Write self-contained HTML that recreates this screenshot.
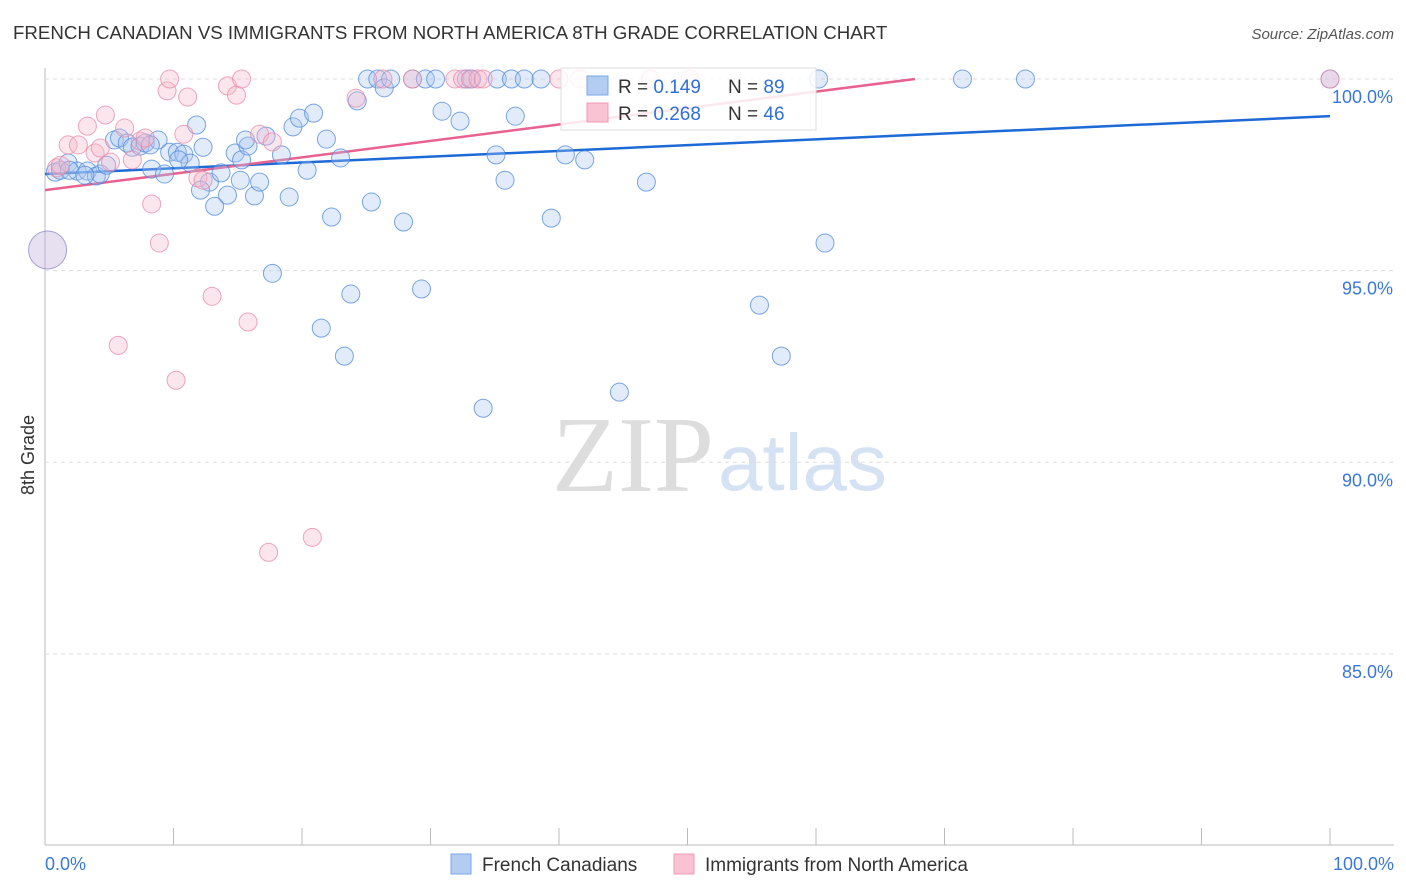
<!DOCTYPE html>
<html><head><meta charset="utf-8"><style>
body{margin:0;background:#fff;font-family:"Liberation Sans",sans-serif}
svg{display:block}
</style></head><body>
<svg id="chart" width="1406" height="892">
<text x="13" y="39" font-size="18.7" fill="#333">FRENCH CANADIAN VS IMMIGRANTS FROM NORTH AMERICA 8TH GRADE CORRELATION CHART</text>
<text x="1394" y="39" font-size="15" fill="#555" font-style="italic" text-anchor="end">Source: ZipAtlas.com</text>
<text x="714" y="491" font-size="108" fill="#ddd" font-family="Liberation Serif,serif" text-anchor="end">ZIP</text>
<text x="718" y="490" font-size="80" fill="#d4e2f4">atlas</text>
<text transform="translate(34,455) rotate(-90)" font-size="18" fill="#333" text-anchor="middle">8th Grade</text>
<g id="grid"></g><g id="lines"></g><g id="pts"></g>
<g>
<rect x="561" y="68" width="255" height="62" fill="#fff" fill-opacity="0.85" stroke="#ddd"/>
<rect x="587" y="76" width="21" height="19" fill="#b3cdf2" stroke="#7aa7e6"/>
<rect x="587" y="103" width="21" height="19" fill="#f9c3d3" stroke="#f09ab5"/>
<text x="618" y="93" font-size="19" fill="#333">R = <tspan fill="#2f6fd6">0.149</tspan><tspan x="728">N = </tspan><tspan fill="#2f6fd6">89</tspan></text>
<text x="618" y="120" font-size="19" fill="#333">R = <tspan fill="#2f6fd6">0.268</tspan><tspan x="728">N = </tspan><tspan fill="#2f6fd6">46</tspan></text>
</g>
<g>
<rect x="451" y="854" width="20" height="20" fill="#b3cdf2" stroke="#7aa7e6"/>
<text x="482" y="871" font-size="19" fill="#333">French Canadians</text>
<rect x="674" y="854" width="20" height="20" fill="#f9c3d3" stroke="#f09ab5"/>
<text x="705" y="871" font-size="19" fill="#333">Immigrants from North America</text>
</g>
</svg>
<script>
const xTicks=[0,10,20,30,40,50,60,70,80,90,100];
const yTicks=[100,95,90,85];
const blueX=[0.8,1.2,1.8,2.5,3.3,4.0,4.3,4.8,5.4,5.8,6.4,6.8,7.4,7.8,8.3,8.8,9.3,9.7,10.3,10.8,11.3,11.8,12.3,12.8,13.2,13.7,14.2,14.8,15.3,15.8,16.3,16.7,17.2,17.7,18.4,19.0,19.3,19.8,20.4,20.9,21.5,21.9,22.3,23.0,23.3,23.8,24.3,25.1,25.4,25.9,26.4,26.9,27.9,28.6,29.3,29.6,30.4,30.9,32.3,32.8,33.2,34.1,35.1,35.2,35.8,36.3,36.6,37.3,38.6,39.4,40.5,42.0,44.7,46.8,55.6,57.3,60.2,60.7,71.4,76.3,100,1.9,3.1,8.2,10.4,12.1,15.2,15.6];
const blueY=[97.57,97.62,97.81,97.6,97.6,97.47,97.52,97.75,98.41,98.46,98.33,98.22,98.25,98.33,97.65,98.41,97.52,98.09,98.09,98.04,97.81,98.8,98.22,97.31,96.68,97.55,96.97,98.07,97.89,98.25,96.95,97.31,98.51,94.93,98.02,96.92,98.75,98.98,97.62,99.11,93.5,98.43,96.4,97.94,92.77,94.39,99.43,100,96.79,100,99.77,100,96.27,100,94.52,100,100,99.16,98.9,100,100,91.41,98.02,100,97.36,100,99.03,100,100,96.37,98.02,97.89,91.83,97.31,94.1,92.77,100,95.72,100,100,100,97.62,97.49,98.28,97.89,97.1,97.36,98.41];
const pinkX=[0.9,1.8,2.6,3.3,3.9,4.3,4.7,5.1,5.7,6.2,6.8,7.4,7.8,8.3,8.9,9.5,9.7,10.2,10.8,11.1,11.9,12.3,13.0,14.2,14.9,15.3,15.8,16.7,17.4,17.7,20.8,24.2,26.3,28.6,31.9,32.5,33.1,33.7,34.1,40.0,41.6,47.1,50.2,100,1.2];
const pinkY=[97.68,98.28,98.28,98.77,98.07,98.2,99.06,97.83,93.05,98.72,97.89,98.38,98.46,96.74,95.72,99.69,100,92.14,98.56,99.53,97.42,97.36,94.33,99.82,99.58,100,93.66,98.56,87.65,98.36,88.04,99.5,100,100,100,100,100,100,100,100,100,100,100,100,97.75];
const bigX=[0.2];const bigY=[95.54];
const blueTrend=[[0,97.52],[100,99.03]];
const pinkTrend=[[0,97.1],[67.7,100]];
const X=v=>45+v*12.85, Y=v=>79+(100-v)*38.33;
const NS='http://www.w3.org/2000/svg';
function mk(t,a,p){const e=document.createElementNS(NS,t);for(const k in a)e.setAttribute(k,a[k]);p.appendChild(e);return e;}
const g=document.getElementById('grid'),L=document.getElementById('lines'),P=document.getElementById('pts');
mk('line',{x1:45,y1:68,x2:45,y2:845,stroke:'#bbb'},g);
mk('line',{x1:45,y1:845,x2:1394,y2:845,stroke:'#bbb'},g);
yTicks.forEach(v=>{
 const l=mk('line',{x1:45,x2:1394,y1:Y(v),y2:Y(v),stroke:'#ddd','stroke-dasharray':'4,4'},g);
 
 
 const t=mk('text',{x:1393,y:Y(v)+24,'font-size':18,fill:'#3a78d8','text-anchor':'end'},g);t.textContent=v.toFixed(1)+'%';
 
 
});
xTicks.forEach(v=>{
 const l=mk('line',{x1:X(v),x2:X(v),y1:828,y2:845,stroke:'#bbb'},g);
 
 
});
[[0,'start',45],[100,'end',1394]].forEach(([v,a,x])=>{const t=mk('text',{x:x,y:870,'font-size':18,fill:'#3a78d8','text-anchor':a},g);t.textContent=v.toFixed(1)+'%';
 
 });
function dot(x,y,r,c){const e=mk('circle',{cx:X(x),cy:Y(y),r:r,fill:c[0],'fill-opacity':0.35,stroke:c[1],'stroke-opacity':0.75,'stroke-width':1},P);return e;}
const BC=['#a9c6f0','#4f88dc'],PC=['#f7b8cc','#e889a8'];
blueX.forEach((x,i)=>{const e=dot(x,blueY[i],9,BC);
 
 });
pinkX.forEach((x,i)=>{const e=dot(x,pinkY[i],9,PC);
 
 });
bigX.forEach((x,i)=>{const e=dot(x,bigY[i],19,['#b9a6d6','#8d86c9']);
 
 });
const bl=mk('line',{x1:X(blueTrend[0][0]),y1:Y(blueTrend[0][1]),x2:X(blueTrend[1][0]),y2:Y(blueTrend[1][1]),stroke:'#1d6ad6','stroke-width':2.5},L);


const pl=mk('line',{x1:X(pinkTrend[0][0]),y1:Y(pinkTrend[0][1]),x2:X(pinkTrend[1][0]),y2:Y(pinkTrend[1][1]),stroke:'#e8628f','stroke-width':2.5},L);


</script>
</body></html>
